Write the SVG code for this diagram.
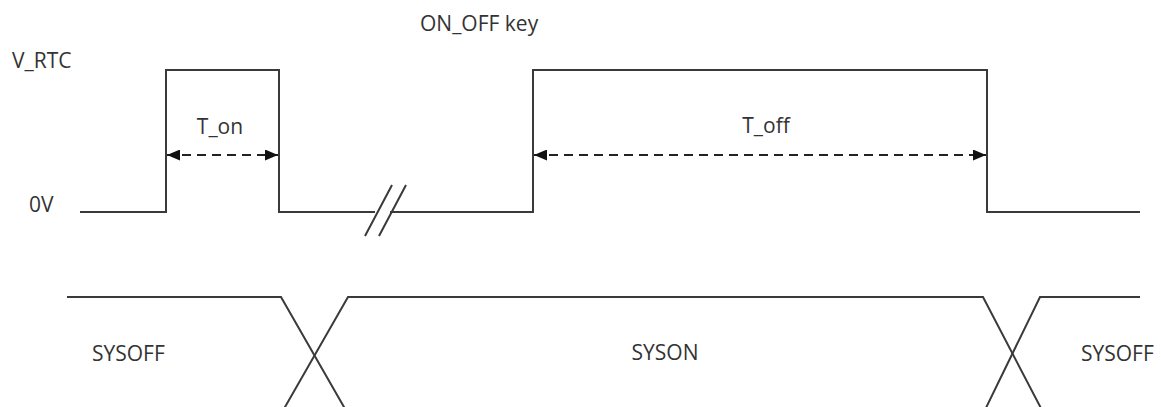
<svg xmlns="http://www.w3.org/2000/svg" width="1161" height="407" viewBox="0 0 1161 407">
<style>
.w{fill:none;stroke:#3a3a3a;stroke-width:2;stroke-linejoin:miter}
.d{fill:none;stroke:#222;stroke-width:2;stroke-dasharray:9,6}
.t{font-family:"Open Sans","Liberation Sans",sans-serif;font-size:21px;fill:#333}
</style>
<defs>
<marker id="ah" viewBox="0 0 13 11" refX="13" refY="5.5" markerWidth="13" markerHeight="11" markerUnits="userSpaceOnUse" orient="auto-start-reverse">
<path d="M0,0 L13,5.5 L0,11 Z" fill="#111"/>
</marker>
</defs>
<rect width="1161" height="407" fill="#fff"/>
<g id="connectors">
<polyline class="w" points="80,212 166,212 166,70 279,70 279,212 375,212"/>
<polyline class="w" points="390,212 533,212 533,70 987,70 987,212 1140,212"/>
<line class="w" x1="365" y1="236" x2="392" y2="185"/>
<line class="w" x1="379" y1="236" x2="406" y2="185"/>
<line class="d" x1="167" y1="155" x2="278" y2="155" marker-start="url(#ah)" marker-end="url(#ah)"/>
<line class="d" x1="534" y1="155" x2="986" y2="155" marker-start="url(#ah)" marker-end="url(#ah)"/>
<polyline class="w" points="67,297 281,297 348,414"/>
<polyline class="w" points="281,414 348,297 983,297 1044,414"/>
<polyline class="w" points="983,414 1040,297 1140,297"/>
</g>
<g id="label-vrtc"><text class="t" x="12" y="68">V_RTC</text></g>
<g id="label-0v"><text class="t" x="29" y="212">0V</text></g>
<g id="label-onoff"><text class="t" x="420" y="31">ON_OFF key</text></g>
<g id="label-ton"><text class="t" x="220" y="134" text-anchor="middle">T_on</text></g>
<g id="label-toff"><text class="t" x="766" y="133" text-anchor="middle">T_off</text></g>
<g id="label-sysoff1"><text class="t" x="92" y="361">SYSOFF</text></g>
<g id="label-syson"><text class="t" x="665" y="360" text-anchor="middle">SYSON</text></g>
<g id="label-sysoff2"><text class="t" x="1081" y="361">SYSOFF</text></g>
</svg>
